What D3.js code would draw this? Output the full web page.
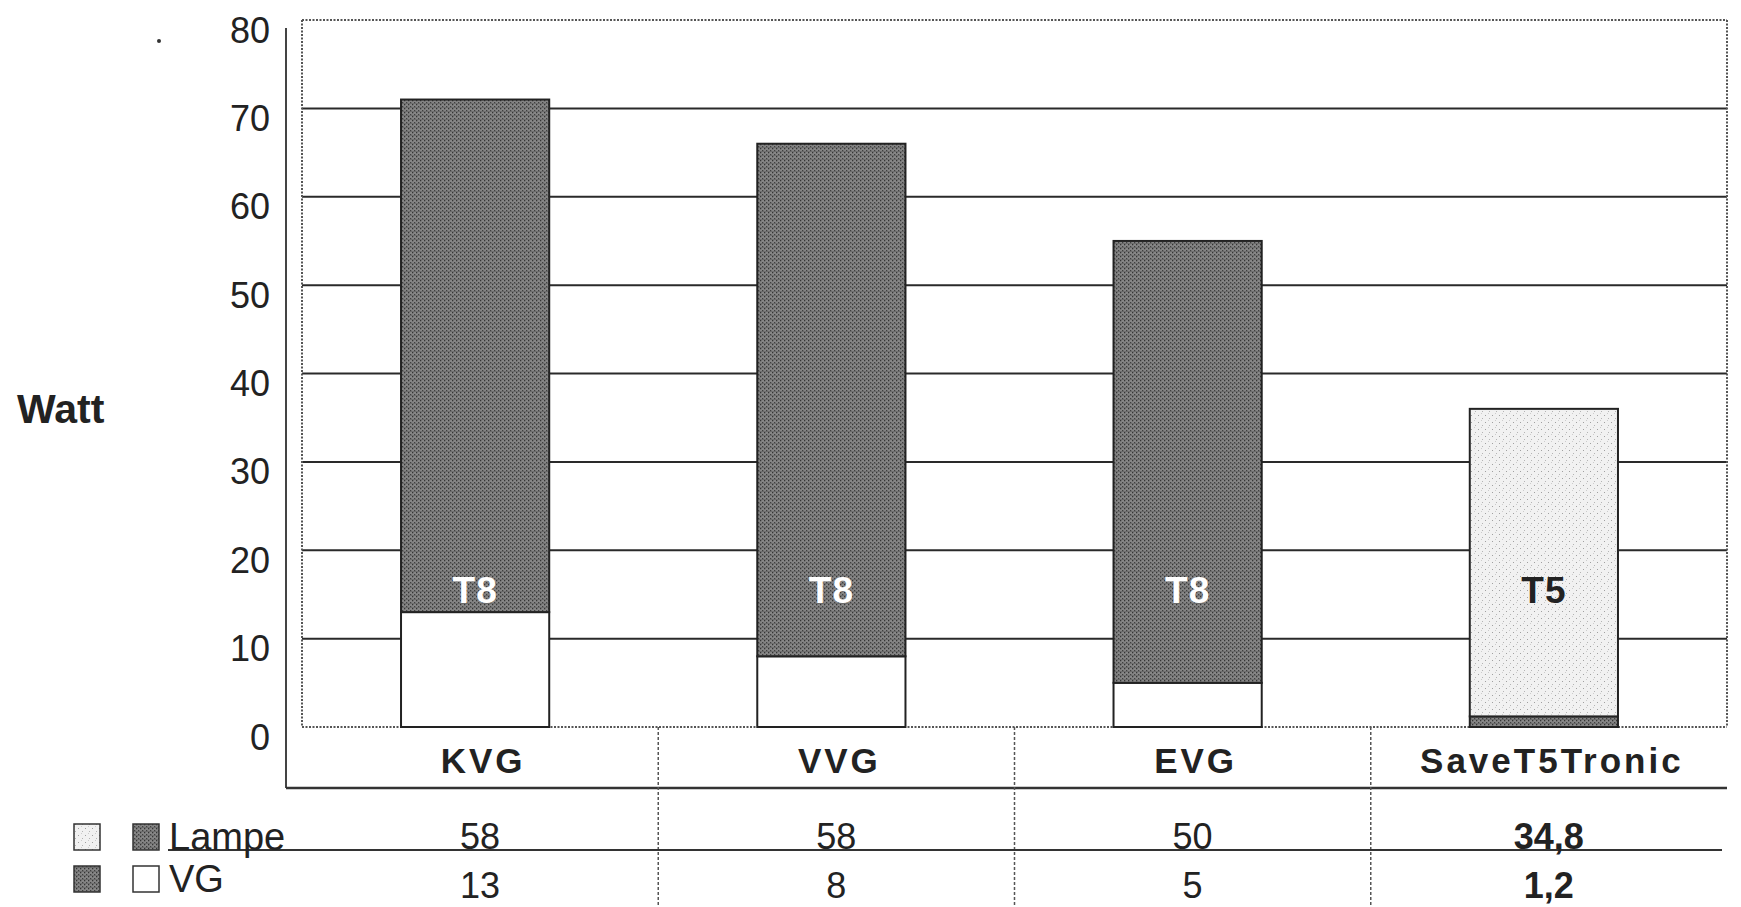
<!DOCTYPE html>
<html>
<head>
<meta charset="utf-8">
<script src="https://cdn.jsdelivr.net/npm/d3@7"></script>
<style>
  html, body { margin: 0; padding: 0; background: #fff; }
  svg { display: block; font-family: "Liberation Sans", Arial, sans-serif; }
</style>
</head>
<body>
<svg id="chart" width="1741" height="907"></svg>
<script>
// ---- data ----
const categories = ["KVG", "VVG", "EVG", "SaveT5Tronic"];
const lampe = [58, 58, 50, 34.8];
const vg = [13, 8, 5, 1.2];
const lampeLabels = ["58", "58", "50", "34,8"];
const vgLabels = ["13", "8", "5", "1,2"];
const lampTypes = ["T8", "T8", "T8", "T5"];
const yTicks = [0, 10, 20, 30, 40, 50, 60, 70, 80];
const yLabel = "Watt";
const seriesNames = ["Lampe", "VG"];

// ---- layout ----
const W = 1741, H = 907;
const plotLeft = 302, plotRight = 1727, plotTop = 20, plotBottom = 727;
const frameLeft = 286, frameBottom = 788;

const svg = d3.select("#chart");

// patterns
const defs = svg.append("defs");
const dark = defs.append("pattern").attr("id", "dark").attr("patternUnits", "userSpaceOnUse")
  .attr("width", 4).attr("height", 4);
dark.append("rect").attr("width", 4).attr("height", 4).attr("fill", "#868686");
dark.append("rect").attr("x", 0).attr("y", 0).attr("width", 1.3).attr("height", 1.3).attr("fill", "#353535");
dark.append("rect").attr("x", 2).attr("y", 2).attr("width", 1.3).attr("height", 1.3).attr("fill", "#404040");
dark.append("rect").attr("x", 0).attr("y", 3).attr("width", 4).attr("height", 0.6).attr("fill", "#5e5e5e");

const light = defs.append("pattern").attr("id", "light").attr("patternUnits", "userSpaceOnUse")
  .attr("width", 7).attr("height", 7);
light.append("rect").attr("width", 7).attr("height", 7).attr("fill", "#f1f1f1");
light.append("rect").attr("x", 1).attr("y", 2).attr("width", 1).attr("height", 1).attr("fill", "#a0a0a0");
light.append("rect").attr("x", 5).attr("y", 5).attr("width", 1).attr("height", 1).attr("fill", "#b4b4b4");
light.append("rect").attr("x", 4).attr("y", 0).attr("width", 1).attr("height", 1).attr("fill", "#cccccc");

const fillFor = (type, series) => {
  if (type === "T8") return series === "Lampe" ? "url(#dark)" : "#ffffff";
  return series === "Lampe" ? "url(#light)" : "url(#dark)";
};

// scales
const y = d3.scaleLinear().domain([0, 80]).range([plotBottom, plotTop]);
const x = d3.scaleBand().domain(categories).range([plotLeft, plotRight])
  .paddingInner(0.584).paddingOuter(0.292);
const xCol = d3.scaleBand().domain(categories).range([plotLeft, plotRight]).padding(0);

// gridlines (10..70)
svg.append("g").selectAll("line").data(yTicks.filter(t => t > 0 && t < 80)).join("line")
  .attr("x1", plotLeft).attr("x2", plotRight)
  .attr("y1", d => y(d)).attr("y2", d => y(d))
  .attr("stroke", "#2a2a2a").attr("stroke-width", 2);

// plot area dotted border
const dotted = { stroke: "#555", "stroke-width": 2, "stroke-dasharray": "2,1.5" };
function applyAttrs(sel, o) { Object.entries(o).forEach(([k, v]) => sel.attr(k, v)); return sel; }
applyAttrs(svg.append("line").attr("x1", plotLeft).attr("x2", plotRight).attr("y1", y(80)).attr("y2", y(80)), dotted);
applyAttrs(svg.append("line").attr("x1", plotLeft).attr("x2", plotLeft).attr("y1", y(80)).attr("y2", y(0)), dotted);
applyAttrs(svg.append("line").attr("x1", plotRight).attr("x2", plotRight).attr("y1", y(80)).attr("y2", y(0)), dotted);
applyAttrs(svg.append("line").attr("x1", plotLeft).attr("x2", plotRight).attr("y1", y(0)).attr("y2", y(0)), dotted);

// outer frame
svg.append("line").attr("x1", frameLeft).attr("x2", frameLeft).attr("y1", 28).attr("y2", frameBottom)
  .attr("stroke", "#444").attr("stroke-width", 2);
svg.append("line").attr("x1", frameLeft).attr("x2", plotRight).attr("y1", frameBottom).attr("y2", frameBottom)
  .attr("stroke", "#333").attr("stroke-width", 2.5);

// bars
const rows = categories.map((c, i) => ({ c, i, type: lampTypes[i], vg: vg[i], lampe: lampe[i] }));
const stack = d3.stack().keys(["vg", "lampe"])(rows);
const shift = -5;
stack.forEach(layer => {
  const series = layer.key === "vg" ? "VG" : "Lampe";
  svg.append("g").selectAll("rect").data(layer).join("rect")
    .attr("x", d => x(d.data.c) + shift)
    .attr("width", x.bandwidth())
    .attr("y", d => y(d[1]))
    .attr("height", d => y(d[0]) - y(d[1]))
    .attr("fill", d => fillFor(d.data.type, series))
    .attr("stroke", "#222").attr("stroke-width", 2);
});

// bar labels
svg.append("g").selectAll("text").data(rows).join("text")
  .attr("x", d => x(d.c) + shift + x.bandwidth() / 2)
  .attr("y", d => y(15.5))
  .attr("text-anchor", "middle").attr("dominant-baseline", "central")
  .attr("font-size", 37).attr("font-weight", "bold").attr("letter-spacing", 1)
  .attr("fill", d => d.type === "T8" ? "#ffffff" : "#222")
  .text(d => d.type);

// y tick labels
svg.append("g").selectAll("text").data(yTicks).join("text")
  .attr("x", 270).attr("y", d => y(d) + 10)
  .attr("text-anchor", "end").attr("dominant-baseline", "central")
  .attr("font-size", 36).attr("fill", "#222")
  .text(d => d);

// y label
svg.append("text").attr("x", 17).attr("y", 409).attr("dominant-baseline", "central")
  .attr("font-size", 41).attr("font-weight", "bold").attr("fill", "#222").text(yLabel);

// category labels
svg.append("g").selectAll("text").data(categories).join("text")
  .attr("x", d => xCol(d) + xCol.bandwidth() / 2 + 3)
  .attr("y", 760).attr("text-anchor", "middle").attr("dominant-baseline", "central")
  .attr("font-size", 35).attr("font-weight", "bold").attr("letter-spacing", 3).attr("fill", "#222")
  .text(d => d);

// table dividers
svg.append("g").selectAll("line").data(categories.slice(1)).join("line")
  .attr("x1", d => xCol(d)).attr("x2", d => xCol(d))
  .attr("y1", y(0)).attr("y2", H)
  .attr("stroke", "#555").attr("stroke-width", 1.5).attr("stroke-dasharray", "3,2");

// table row line
svg.append("line").attr("x1", 168).attr("x2", 1722).attr("y1", 850).attr("y2", 850)
  .attr("stroke", "#333").attr("stroke-width", 2);

// table values
svg.append("g").selectAll("text").data(lampeLabels).join("text")
  .attr("x", (d, i) => xCol(categories[i]) + xCol.bandwidth() / 2)
  .attr("y", 849).attr("text-anchor", "middle")
  .attr("font-size", 36).attr("fill", "#222")
  .attr("font-weight", (d, i) => lampTypes[i] === "T5" ? "bold" : "normal")
  .text(d => d);
svg.append("g").selectAll("text").data(vgLabels).join("text")
  .attr("x", (d, i) => xCol(categories[i]) + xCol.bandwidth() / 2)
  .attr("y", 898).attr("text-anchor", "middle")
  .attr("font-size", 36).attr("fill", "#222")
  .attr("font-weight", (d, i) => lampTypes[i] === "T5" ? "bold" : "normal")
  .text(d => d);

// legend
const legRows = [824, 866];
seriesNames.forEach((s, r) => {
  svg.append("rect").attr("x", 74).attr("y", legRows[r]).attr("width", 26).attr("height", 26)
    .attr("fill", fillFor("T5", s)).attr("stroke", "#333").attr("stroke-width", 1.5);
  svg.append("rect").attr("x", 133).attr("y", legRows[r]).attr("width", 26).attr("height", 26)
    .attr("fill", fillFor("T8", s)).attr("stroke", "#333").attr("stroke-width", 1.5);
  svg.append("text").attr("x", 169).attr("y", legRows[r] + 26)
    .attr("font-size", 38).attr("fill", "#222").text(s);
});

// small speck
svg.append("circle").attr("cx", 159).attr("cy", 41).attr("r", 2).attr("fill", "#333");
</script>
</body>
</html>
